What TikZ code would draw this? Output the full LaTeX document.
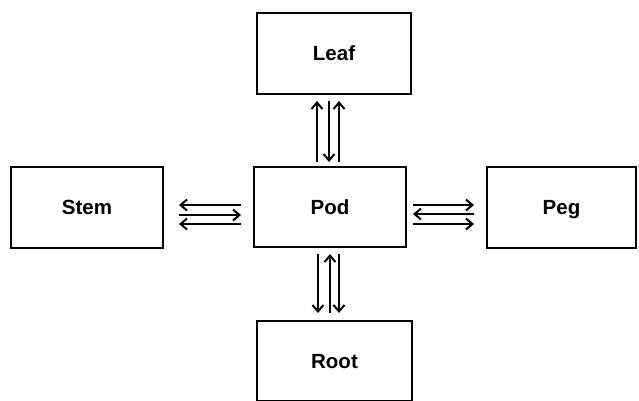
\documentclass[tikz,border=0pt]{standalone}
\usepackage{fontspec}
\setmainfont{Liberation Sans}
\usetikzlibrary{arrows.meta}
\begin{document}
\begin{tikzpicture}[x=1pt,y=-1pt,
  box/.style={draw, line width=2pt, inner sep=0pt, text height=14.5pt, text depth=0pt, font=\fontsize{20.5}{24}\selectfont\bfseries},
  conn/.style={line width=2pt, -{Straight Barb[length=6.5pt,width=11pt,line width=2pt]}}]
\useasboundingbox (0,0) rectangle (639,400);
\clip (0,0) rectangle (639,400);
\fill[white] (0,0) rectangle (639,400);
\node[box, minimum width=154pt, minimum height=81pt] (leaf) at (334,53.5) {Leaf};
\node[box, minimum width=152pt, minimum height=80pt] (pod) at (330,207) {Pod};
\node[box, minimum width=152pt, minimum height=81pt] (stem) at (87,207.5) {Stem};
\node[box, minimum width=149pt, minimum height=81pt] (peg) at (561.5,207.5) {Peg};
\node[box, minimum width=155pt, minimum height=80pt] (root) at (334.5,361) {Root};
% Leaf <-> Pod
\draw[conn, shorten <=4pt, shorten >=6pt] ([xshift=-13pt]pod.north) -- ([xshift=-13pt]pod.north |- leaf.south);
\draw[conn, shorten <=6pt, shorten >=4pt] ([xshift=-1pt]pod.north |- leaf.south) -- ([xshift=-1pt]pod.north);
\draw[conn, shorten <=4pt, shorten >=6pt] ([xshift=9pt]pod.north) -- ([xshift=9pt]pod.north |- leaf.south);
% Pod <-> Root
\draw[conn, shorten <=6pt, shorten >=7pt] ([xshift=-12pt]pod.south) -- ([xshift=-12pt]pod.south |- root.north);
\draw[conn, shorten <=7pt, shorten >=6pt] ([xshift=0pt]pod.south |- root.north) -- ([xshift=0pt]pod.south);
\draw[conn, shorten <=6pt, shorten >=7pt] ([xshift=9pt]pod.south) -- ([xshift=9pt]pod.south |- root.north);
% Stem <-> Pod
\draw[conn, shorten <=12pt, shorten >=15pt] ([yshift=2pt]pod.west) -- ([yshift=2pt]pod.west -| stem.east);
\draw[conn, shorten <=15pt, shorten >=12pt] ([yshift=-8pt]pod.west -| stem.east) -- ([yshift=-8pt]pod.west);
\draw[conn, shorten <=12pt, shorten >=15pt] ([yshift=-17pt]pod.west) -- ([yshift=-17pt]pod.west -| stem.east);
% Pod <-> Peg
\draw[conn, shorten <=6pt, shorten >=12pt] ([yshift=2pt]pod.east) -- ([yshift=2pt]pod.east -| peg.west);
\draw[conn, shorten <=12pt, shorten >=6pt] ([yshift=-7pt]pod.east -| peg.west) -- ([yshift=-7pt]pod.east);
\draw[conn, shorten <=6pt, shorten >=12pt] ([yshift=-17pt]pod.east) -- ([yshift=-17pt]pod.east -| peg.west);
\end{tikzpicture}
\end{document}
